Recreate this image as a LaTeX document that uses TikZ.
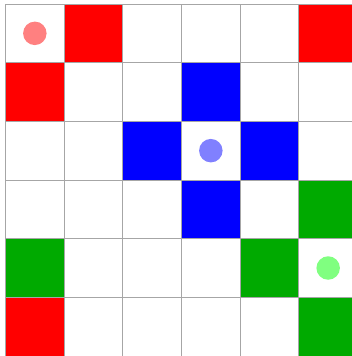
\documentclass[tikz,border=0pt]{standalone}
\begin{document}
\begin{tikzpicture}[x=1pt,y=-1pt,
  cellfill/.style={draw=none},
  gridline/.style={draw=gray!70,line width=1pt},
  agent/.style={circle,draw=none,minimum size=23.5pt,inner sep=0pt}]
\definecolor{cred}{RGB}{255,0,0}
\definecolor{cblue}{RGB}{0,0,255}
\definecolor{cgreen}{RGB}{0,170,0}
\definecolor{lred}{RGB}{255,128,128}
\definecolor{lblue}{RGB}{128,128,255}
\definecolor{lgreen}{RGB}{128,255,128}
\useasboundingbox (0,0) rectangle (352,356);
\clip (0,0) rectangle (352,356);
\def\cs{58.667}
\def\ox{5.5}
\def\oy{4}
% cells: column,row,color
\foreach \c/\r/\col in {1/0/cred,5/0/cred,0/1/cred,3/1/cblue,2/2/cblue,4/2/cblue,3/3/cblue,5/3/cgreen,0/4/cgreen,4/4/cgreen,0/5/cred,5/5/cgreen}{
  \fill[\col] ({\ox+\c*\cs},{\oy+\r*\cs}) rectangle ({\ox+(\c+1)*\cs},{\oy+(\r+1)*\cs});
}
\foreach \i in {0,...,6}{
  \draw[gridline] ({\ox+\i*\cs},\oy) -- ({\ox+\i*\cs},{\oy+6*\cs});
  \draw[gridline] (\ox,{\oy+\i*\cs}) -- ({\ox+6*\cs},{\oy+\i*\cs});
}
\node[agent,fill=lred] (a1) at ({\ox+0.5*\cs},{\oy+0.5*\cs}) {};
\node[agent,fill=lblue] (a2) at ({\ox+3.5*\cs},{\oy+2.5*\cs}) {};
\node[agent,fill=lgreen] (a3) at ({\ox+5.5*\cs},{\oy+4.5*\cs}) {};
\end{tikzpicture}
\end{document}
